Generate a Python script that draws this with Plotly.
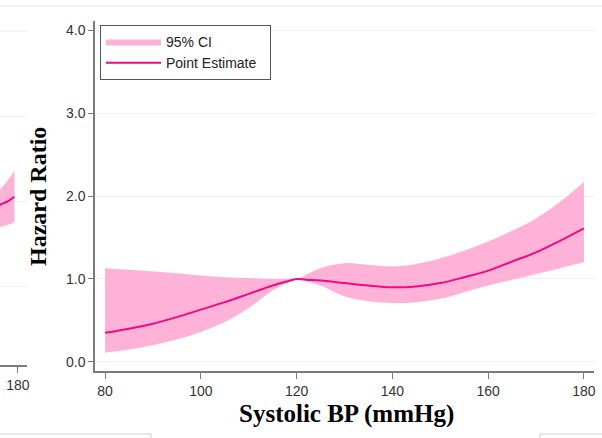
import plotly.graph_objects as go

# Main panel: Systolic BP vs hazard ratio
sbp = [80, 85, 90, 95, 100, 105, 110, 115, 118, 120, 122, 125, 130, 135, 140, 145, 150, 155, 160, 165, 170, 175, 180]
hr_point = [0.35, 0.40, 0.46, 0.54, 0.63, 0.72, 0.82, 0.92, 0.97, 1.00, 0.99, 0.98, 0.95, 0.92, 0.90, 0.91, 0.95, 1.02, 1.10, 1.21, 1.32, 1.46, 1.61]
hr_upper = [1.13, 1.11, 1.09, 1.07, 1.04, 1.02, 1.01, 1.00, 1.00, 1.00, 1.05, 1.13, 1.19, 1.17, 1.15, 1.18, 1.25, 1.34, 1.45, 1.58, 1.73, 1.93, 2.17]
hr_lower = [0.11, 0.15, 0.20, 0.27, 0.36, 0.48, 0.65, 0.86, 0.95, 1.00, 0.97, 0.92, 0.79, 0.73, 0.71, 0.72, 0.76, 0.84, 0.92, 0.99, 1.06, 1.13, 1.20]

# Partially visible neighbouring panel on the left
left_x = [170, 173, 176, 178, 179.3]
left_point = [1.80, 1.87, 1.95, 2.00, 2.05]
left_upper = [1.90, 2.00, 2.12, 2.25, 2.36]
left_lower = [1.60, 1.64, 1.69, 1.72, 1.75]

y_ticks = [0, 1, 2, 3, 4]
x_ticks = [80, 100, 120, 140, 160, 180]

FILL = "#FFB2D8"
LINE = "#F00A83"
AXIS = "#7a7a7a"
GRID = "#EDF2F2"
SANS = "Liberation Sans, Arial, sans-serif"
SERIF = "Liberation Serif, Times New Roman, serif"
TICKFONT = dict(family=SANS, size=14, color="#333")

fig = go.Figure()

# left partial panel
fig.add_trace(go.Scatter(x=left_x, y=left_lower, mode="lines", line=dict(width=0, color=FILL, shape="spline"),
                         showlegend=False, hoverinfo="skip", xaxis="x2", yaxis="y2"))
fig.add_trace(go.Scatter(x=left_x, y=left_upper, mode="lines", line=dict(width=0, color=FILL, shape="spline"),
                         fill="tonexty", fillcolor=FILL, showlegend=False, hoverinfo="skip", xaxis="x2", yaxis="y2"))
fig.add_trace(go.Scatter(x=left_x, y=left_point, mode="lines", line=dict(width=2, color=LINE, shape="spline"),
                         showlegend=False, hoverinfo="skip", xaxis="x2", yaxis="y2"))

# main panel
fig.add_trace(go.Scatter(x=sbp, y=hr_lower, mode="lines", line=dict(width=0, color=FILL, shape="spline"),
                         showlegend=False, hoverinfo="skip"))
fig.add_trace(go.Scatter(x=sbp, y=hr_upper, mode="lines", line=dict(width=0, color=FILL, shape="spline"),
                         fill="tonexty", fillcolor=FILL, name="95% CI"))
fig.add_trace(go.Scatter(x=sbp, y=hr_point, mode="lines", line=dict(width=2, color=LINE, shape="spline"),
                         name="Point Estimate\u00a0\u00a0"))

W, H = 602, 438
ML, MR, MT, MB = 0, 8, 21, 67
PW, PH = W - ML - MR, H - MT - MB


def px(x):
    return (x - ML) / PW


def py(y):
    return (H - MB - y) / PH


fig.update_layout(
    width=W, height=H,
    margin=dict(l=ML, r=MR, t=MT, b=MB, autoexpand=False),
    paper_bgcolor="white", plot_bgcolor="white",
    font=dict(family=SANS, size=12, color="#333"),
    xaxis=dict(domain=[px(95), 1], range=[77.9, 182.1], tickvals=x_ticks, automargin=False,
               showline=True, linecolor=AXIS, linewidth=1.5, ticks="outside", ticklen=6,
               tickcolor=AXIS, tickwidth=1.2, showgrid=False, zeroline=False,
               tickfont=TICKFONT, anchor="y"),
    yaxis=dict(domain=[0, 1], range=[-0.11, 4.11], tickvals=y_ticks, tickformat=".1f", automargin=False,
               showline=True, linecolor=AXIS, linewidth=1.5, ticks="outside", ticklen=5,
               tickcolor=AXIS, tickwidth=1.2, showgrid=True, gridcolor=GRID, gridwidth=1,
               zeroline=False, tickfont=TICKFONT, anchor="x"),
    xaxis2=dict(domain=[0, px(27)], range=[176.3, 181.9], tickvals=[180], automargin=False,
                showline=True, linecolor=AXIS, linewidth=1.5, ticks="outside", ticklen=6,
                tickcolor=AXIS, tickwidth=1.2, showgrid=False, zeroline=False,
                tickfont=TICKFONT, anchor="y2"),
    yaxis2=dict(domain=[py(365), 1], range=[0.07, 4.12], tickvals=y_ticks, automargin=False,
                showline=False, ticks="", showticklabels=False, showgrid=True,
                gridcolor=GRID, gridwidth=1, zeroline=False, anchor="x2"),
    legend=dict(x=px(100), y=py(25), xanchor="left", yanchor="top",
                bordercolor="#555", borderwidth=1, bgcolor="white",
                font=dict(family=SANS, size=14, color="#222"), itemwidth=55,
                traceorder="normal"),
    showlegend=True,
    annotations=[
        dict(text="<b>Systolic BP (mmHg)</b>", x=px(346), y=py(414), xref="paper", yref="paper",
             showarrow=False, font=dict(family=SERIF, size=25, color="#000"),
             xanchor="center", yanchor="middle"),
        dict(text="<b>Hazard Ratio</b>", x=px(38), y=py(197), xref="paper", yref="paper",
             showarrow=False, textangle=-90, font=dict(family=SERIF, size=24, color="#000"),
             xanchor="center", yanchor="middle"),
    ],
    shapes=[
        dict(type="line", xref="paper", yref="paper", x0=px(0), x1=px(602), y0=py(6), y1=py(6),
             line=dict(color="#e6e6e6", width=1)),
        dict(type="line", xref="paper", yref="paper", x0=px(0), x1=px(151), y0=py(434), y1=py(434),
             line=dict(color="#cfcfcf", width=1)),
        dict(type="line", xref="paper", yref="paper", x0=px(151), x1=px(151), y0=py(434), y1=py(440),
             line=dict(color="#cfcfcf", width=1)),
        dict(type="line", xref="paper", yref="paper", x0=px(540), x1=px(602), y0=py(434), y1=py(434),
             line=dict(color="#cfcfcf", width=1)),
        dict(type="line", xref="paper", yref="paper", x0=px(540), x1=px(540), y0=py(434), y1=py(440),
             line=dict(color="#cfcfcf", width=1)),
    ],
)

fig.write_html(
    "out.html",
    config={"displayModeBar": False},
    post_script="document.body.style.margin='0';document.body.style.overflow='hidden';",
)
